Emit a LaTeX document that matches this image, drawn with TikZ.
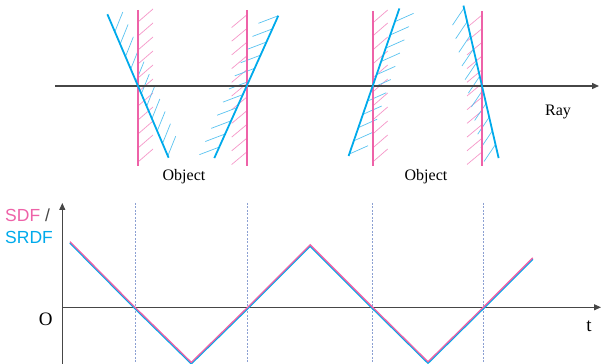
\documentclass[tikz,border=0pt]{standalone}
\usepackage{fontspec}
\setmainfont{Liberation Serif}
\newfontfamily\arialf{Liberation Sans}
\usetikzlibrary{arrows.meta}
\definecolor{mypink}{RGB}{238,98,168}
\definecolor{myblue}{RGB}{0,170,235}
\definecolor{lpink}{RGB}{245,150,200}
\definecolor{lblue}{RGB}{90,195,240}
\definecolor{axisgray}{RGB}{70,70,70}
\definecolor{dashblue}{RGB}{140,160,210}
\begin{document}
\begin{tikzpicture}[x=1pt,y=1pt,
  pinkwall/.style={draw=mypink,line width=1.8pt},
  bluewall/.style={draw=myblue,line width=1.8pt},
  pinkhatch/.style={draw=lpink,line width=0.7pt},
  bluehatch/.style={draw=lblue,line width=0.7pt},
  axisline/.style={draw=axisgray,line width=1pt},
  rayline/.style={draw=axisgray,line width=1.4pt},
  guide/.style={draw=dashblue,line width=0.7pt,dash pattern=on 2pt off 1.5pt},
  lbl/.style={font=\fontsize{16}{18}\selectfont,inner sep=0pt},
  biglbl/.style={font=\fontsize{19}{21}\selectfont,inner sep=0pt},
  sflbl/.style={font=\arialf\fontsize{17.5}{20}\selectfont,inner sep=0pt,anchor=west},
  arr/.style={-{Triangle[length=7pt,width=6pt]}},
]
\useasboundingbox (0,0) rectangle (603,364);

% ---------- top: ray ----------
\coordinate (rayS) at (55,278);
\coordinate (rayE) at (599,278);

% ---------- wall 1 ----------
\begin{scope}[shift={(138,278)}]
  \foreach \d in {-76,-62,-48,-34,-20,-6,8,22,36,50,64}
    \draw[pinkhatch] (0,\d) -- ++(15,13);
\end{scope}
\begin{scope}[shift={(138,278)},rotate=23.1]
  \foreach \d in {-76,-62.5,-49,-35.5,-22,-8.5,5,18.5,32,45.5,59}
    \draw[bluehatch] (0,\d) -- ++(15,15);
  \coordinate (b1t) at (0,78);
  \coordinate (b1b) at (0,-78);
\end{scope}
\coordinate (p1t) at (138,354);
\coordinate (p1b) at (138,198);

% ---------- wall 2 ----------
\begin{scope}[shift={(246.7,278)}]
  \foreach \d in {71,57.3,43.6,29.9,16.2,2.5,-11.2,-24.9,-38.6,-52.3,-66}
    \draw[pinkhatch] (0,\d) -- ++(-15,-12.5);
\end{scope}
\begin{scope}[shift={(246.7,278)},rotate=-24.2]
  \foreach \d in {77,62.6,48.2,33.8,19.4,5,-9.4,-23.8,-38.2,-52.6,-67}
    \draw[bluehatch] (0,\d) -- ++(-15,-15);
  \coordinate (b2t) at (0,77);
  \coordinate (b2b) at (0,-79);
\end{scope}
\coordinate (p2t) at (246.7,354);
\coordinate (p2b) at (246.7,198);

% ---------- wall 3 ----------
\begin{scope}[shift={(372.7,278)}]
  \foreach \d in {-76,-62,-48,-34,-20,-6,8,22,36,50,63}
    \draw[pinkhatch] (0,\d) -- ++(15,13);
\end{scope}
\begin{scope}[shift={(372.7,278)},rotate=-19]
  \foreach \d in {-72,-58,-44,-30,-16,-2,12,26,40,54,68}
    \draw[bluehatch] (0,\d) -- ++(15,14);
  \coordinate (b3t) at (0,82);
  \coordinate (b3b) at (0,-74);
\end{scope}
\coordinate (p3t) at (372.7,353);
\coordinate (p3b) at (372.7,198);

% ---------- wall 4 ----------
\begin{scope}[shift={(482,278)}]
  \foreach \d in {71,57.3,43.6,29.9,16.2,2.5,-11.2,-24.9,-38.6,-52.3,-66}
    \draw[pinkhatch] (0,\d) -- ++(-15,-12.5);
\end{scope}
\begin{scope}[shift={(482,278)},rotate=13]
  \foreach \d in {80,66,52,38,24,10,-4,-18,-32,-46,-60}
    \draw[bluehatch] (0,\d) -- ++(-15,-14);
  \coordinate (b4t) at (0,82.5);
  \coordinate (b4b) at (0,-74);
\end{scope}
\coordinate (p4t) at (482,353);
\coordinate (p4b) at (482,198);

\draw[rayline,arr] (rayS) -- (rayE);
\draw[pinkwall] (p1t) -- (p1b);
\draw[pinkwall] (p2t) -- (p2b);
\draw[pinkwall] (p3t) -- (p3b);
\draw[pinkwall] (p4t) -- (p4b);
\draw[bluewall] (b1t) -- (b1b);
\draw[bluewall] (b2t) -- (b2b);
\draw[bluewall] (b3t) -- (b3b);
\draw[bluewall] (b4t) -- (b4b);

\node[lbl] (obj1) at (184,187) {Object};
\node[lbl] (obj2) at (426,187) {Object};
\node[lbl] (ray) at (558,252) {Ray};

% ---------- bottom: plot ----------
\coordinate (g1t) at (135,161);   \coordinate (g1b) at (135,0);
\coordinate (g2t) at (247.7,161); \coordinate (g2b) at (247.7,0);
\coordinate (g3t) at (372.7,161); \coordinate (g3b) at (372.7,0);
\coordinate (g4t) at (483.3,161); \coordinate (g4b) at (483.3,0);
\draw[guide] (g1t) -- (g1b);
\draw[guide] (g2t) -- (g2b);
\draw[guide] (g3t) -- (g3b);
\draw[guide] (g4t) -- (g4b);

\coordinate (yb) at (62.3,0);
\coordinate (yt) at (62.3,161);
\coordinate (orig) at (62.3,56.7);
\coordinate (xe) at (601,56.7);
\draw[axisline,arr] (yb) -- (yt);
\draw[axisline,arr] (orig) -- (xe);

\coordinate (z0) at (70,122.3);
\coordinate (z1) at (135,56.7);
\coordinate (z2) at (191.3,1.6);
\coordinate (z3) at (247.7,56.7);
\coordinate (z4) at (310.2,119.2);
\coordinate (z5) at (372.7,56.7);
\coordinate (z6) at (428,2.2);
\coordinate (z7) at (483.3,56.7);
\coordinate (z8) at (532.7,106.1);
\draw[myblue,line width=1.6pt,line join=miter]
  ([yshift=-1.3pt]z0) -- ([yshift=-1.3pt]z1)
  -- ([yshift=-1.3pt]z2) -- ([yshift=-1.3pt]z3)
  -- ([yshift=-1.3pt]z4) -- ([yshift=-1.3pt]z5)
  -- ([yshift=-1.3pt]z6) -- ([yshift=-1.3pt]z7)
  -- ([yshift=-1.3pt]z8);
\draw[mypink,line width=1.3pt,line join=miter]
  (z0) -- (z1) -- (z2) -- (z3) -- (z4) -- (z5) -- (z6) -- (z7) -- (z8);

\node[biglbl] (olbl) at (45.7,44.7) {O};
\node[biglbl] (tlbl) at (589,38) {t};
\node[sflbl] (sdf) at (5,149) {\textcolor{mypink}{SDF} \textcolor{axisgray}{/}};
\node[sflbl] (srdf) at (5,126.3) {\textcolor{myblue}{SRDF}};
\end{tikzpicture}
\end{document}
